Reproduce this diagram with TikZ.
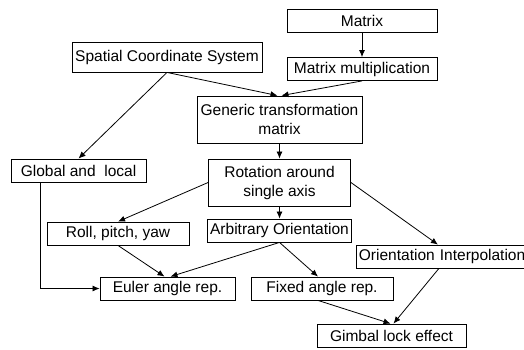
\documentclass[tikz,border=0pt]{standalone}
\usepackage{fontspec}
\setmainfont{Liberation Sans}
\usepackage{tikz}
\usetikzlibrary{shapes,arrows,arrows.meta}
\tikzstyle{block} = [rectangle, draw=black, line width=0.85pt, align=center, inner sep=2.5pt, minimum height=23pt, font=\fontsize{15.5pt}{19pt}\selectfont]
\tikzstyle{arrow} = [line width=0.8pt, ->, >={Latex[length=7pt,width=6pt]}]

\begin{document}
\begin{tikzpicture}[x=1pt, y=-1pt, node distance=48pt]
\useasboundingbox (0,0) rectangle (524,349);

\node (matrix) [block, minimum width=150pt] at (362,21) {Matrix};
\node (matMult) [block, minimum width=150pt, below of=matrix] {Matrix multiplication};
\node (spatial) [block, minimum width=190pt, minimum height=30pt] at (167,57) {Spatial Coordinate System};
\node (generic) [block, minimum width=165pt, minimum height=47pt] at (279.5,119.5) {Generic transformation\\matrix};
\node (rotation) [block, minimum width=142pt, minimum height=47pt, below of=generic, yshift=-15pt] {Rotation around\\single axis};
\node (arbitrary) [block, minimum width=143pt, below of=rotation] {Arbitrary Orientation};
\node (globalLocal) [block, minimum width=135pt] at (78.5,170.5) {Global and \ local};
\node (roll) [block, minimum width=142pt] at (118,233.5) {Roll, pitch, yaw};
\node (orientInterp) [block, anchor=west, text width=172pt, align=left] at (356,256.5) {Orientation Interpolation};
\node (euler) [block, minimum width=135pt] at (167.5,288.5) {Euler angle rep.};
\node (fixed) [block, minimum width=142pt] at (322,288.5) {Fixed angle rep.};
\node (gimbal) [block, minimum width=149pt] at (391.5,335.5) {Gimbal lock effect};

\draw [arrow] (matrix) -- (matMult);
\draw [arrow] (spatial.south) -- ([xshift=-2pt]generic.north);
\draw [arrow] (matMult.south) -- ([xshift=2pt]generic.north);
\draw [arrow] (spatial.south) -- (globalLocal.north);
\draw [arrow] (generic) -- (rotation);
\draw [arrow] (rotation.west) -- (roll.north);
\draw [arrow] (rotation) -- (arbitrary);
\draw [arrow] (rotation.east) -- ([xshift=-7pt]orientInterp.north);
\draw [arrow] ([xshift=30pt]globalLocal.south west) |- (euler.west);
\draw [arrow] (roll.south) -- ([xshift=-3pt]euler.north);
\draw [arrow] (arbitrary.south) -- ([xshift=3pt]euler.north);
\draw [arrow] (arbitrary.south) -- ([xshift=-4pt]fixed.north);
\draw [arrow] ([xshift=-4pt]fixed.south) -- ([xshift=-1pt]gimbal.north);
\draw [arrow] ([xshift=-6pt]orientInterp.south) -- ([xshift=2pt]gimbal.north);

\end{tikzpicture}
\end{document}
